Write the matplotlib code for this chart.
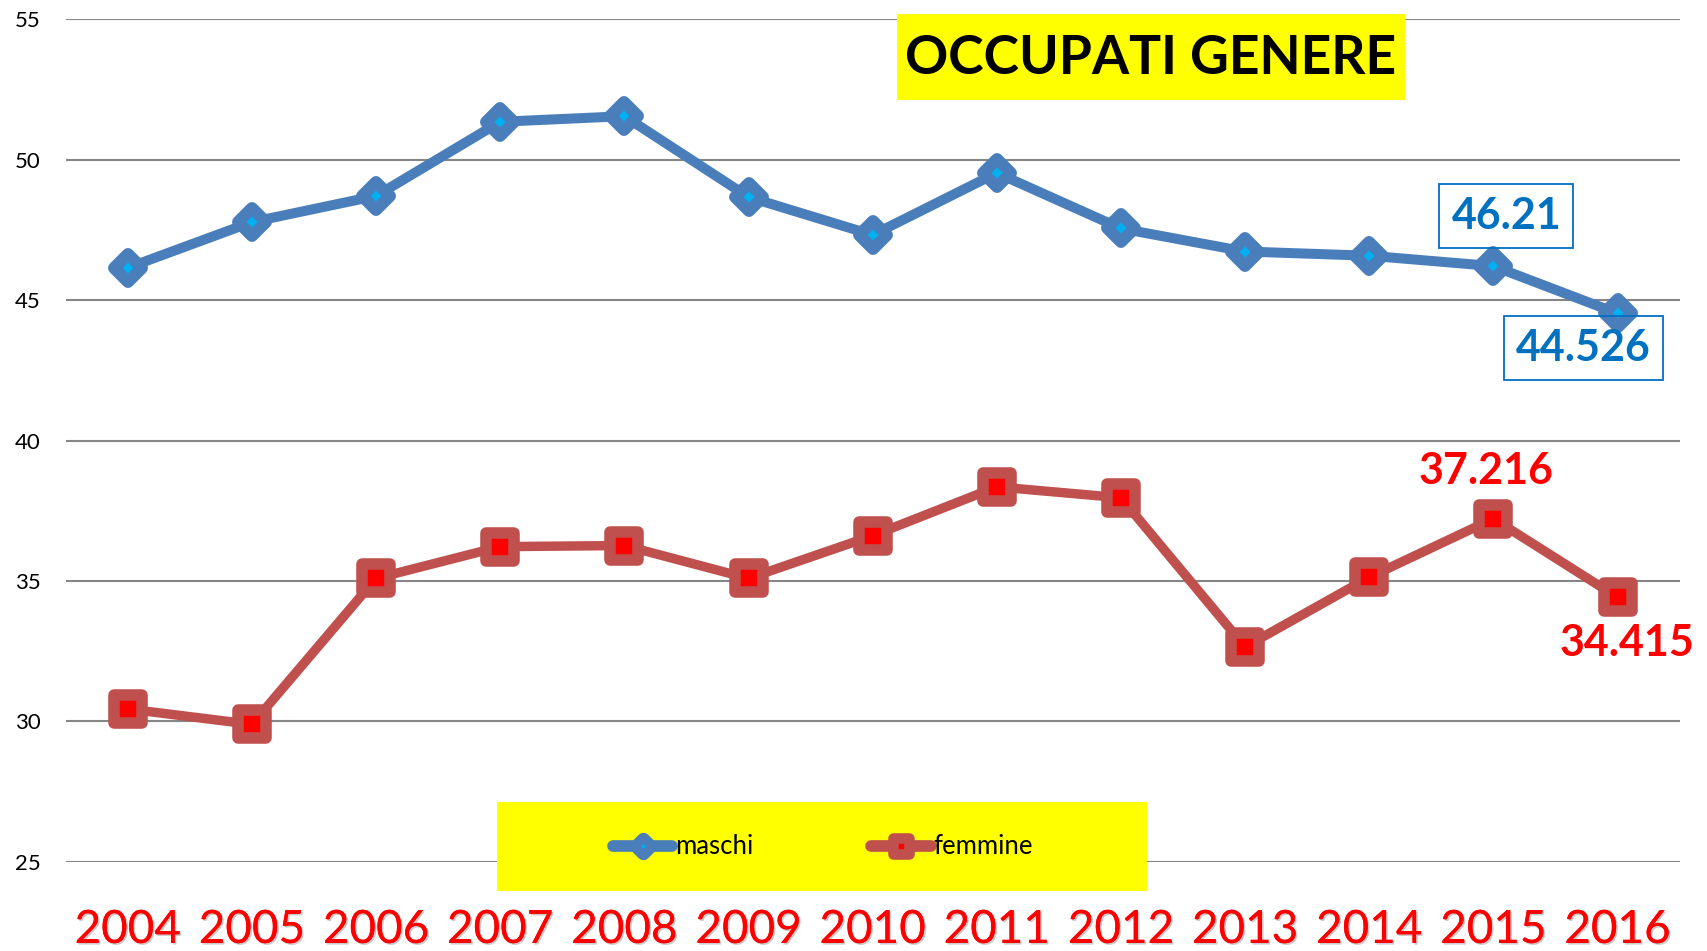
import numpy as np
import matplotlib
matplotlib.use("Agg")
import matplotlib.pyplot as plt
from matplotlib.markers import MarkerStyle
from matplotlib.lines import Line2D
from matplotlib.patches import Rectangle
import matplotlib.patheffects as pe

plt.rcParams['font.family'] = ['Lato', 'DejaVu Sans']

# data
anni = ['2004', '2005', '2006', '2007', '2008', '2009', '2010',
        '2011', '2012', '2013', '2014', '2015', '2016']
maschi = [46.15, 47.78, 48.71, 51.35, 51.55, 48.67, 47.32,
          49.53, 47.55, 46.73, 46.58, 46.21, 44.526]
femmine = [30.44, 29.89, 35.09, 36.22, 36.26, 35.09, 36.61,
           38.35, 37.96, 32.65, 35.13, 37.216, 34.415]
yticks = [25, 30, 35, 40, 45, 50, 55]

W, H = 1708, 951
BLU, BLU_IN, BLU_TXT = '#4A7EBB', '#00B0F0', '#0070C0'
ROSSO, ROSSO_IN = '#C0504D', '#FF0000'

fig = plt.figure(figsize=(W/100, H/100), dpi=100)
ax = fig.add_axes([65.7/W, 1-861.7/H, (1679.6-65.7)/W, (861.7-19.3)/H])

x = np.arange(len(anni))
dia = MarkerStyle('D', joinstyle='round')
sq = MarkerStyle('s', joinstyle='round')

ax.plot(x, maschi, color=BLU, lw=7.2, solid_joinstyle='round',
        marker=dia, ms=14.3, mfc=BLU_IN, mec=BLU, mew=8.6, zorder=3)
ax.plot(x, femmine, color=ROSSO, lw=6.8, solid_joinstyle='round',
        marker=sq, ms=20.5, mfc=ROSSO_IN, mec=ROSSO, mew=8.3, zorder=3)

ax.set_xlim(-0.5, len(anni)-0.5)
ax.set_ylim(25, 55)
ax.set_yticks(yticks)
ax.set_xticks(x)
ax.set_xticklabels(anni, color='#FF0000', fontsize=33)
for t in ax.get_xticklabels():
    t.set_path_effects([pe.withSimplePatchShadow(offset=(1.2, -1.2), shadow_rgbFace='0.5', alpha=0.4),
                        pe.Normal()])
ax.tick_params(axis='x', length=0, pad=34)
ax.tick_params(axis='y', length=0, pad=18, labelsize=16)
ax.grid(axis='y', color='#868686', lw=1.5)
ax.set_axisbelow(True)
for s in ax.spines.values():
    s.set_visible(False)

# etichette dati ultimi due anni
bb = dict(boxstyle='square,pad=0.28', facecolor='none', edgecolor=BLU_TXT, lw=1.3)
ax.annotate('46.21', (11, maschi[11]), xytext=(13, 50), textcoords='offset pixels',
            ha='center', va='center', fontsize=31, fontweight='bold', color=BLU_TXT, bbox=bb, zorder=5)
ax.annotate('44.526', (12, maschi[12]), xytext=(-34, -35), textcoords='offset pixels',
            ha='center', va='center', fontsize=31, fontweight='bold', color=BLU_TXT, bbox=bb, zorder=5)
ax.annotate('37.216', (11, femmine[11]), xytext=(-7, 48), textcoords='offset pixels',
            ha='center', va='center', fontsize=31, fontweight='bold', color=ROSSO_IN, zorder=5)
ax.annotate('34.415', (12, femmine[12]), xytext=(10, -46), textcoords='offset pixels',
            ha='center', va='center', fontsize=31, fontweight='bold', color=ROSSO_IN, zorder=5)

# titolo su fondo giallo
fig.add_artist(Rectangle((897/W, 1-100/H), 508/W, 86/H, transform=fig.transFigure,
                         facecolor='#FFFF00', edgecolor='none', zorder=4))
fig.text(1151/W, 1-58/H, 'OCCUPATI GENERE', ha='center', va='center',
         fontsize=38.5, fontweight='bold', color='black', zorder=5)

# legenda su fondo giallo
fig.add_artist(Rectangle((497/W, 1-891/H), 650/W, 89/H, transform=fig.transFigure,
                         facecolor='#FFFF00', edgecolor='none', zorder=4))
h1 = Line2D([], [], color=BLU, lw=8.4, solid_capstyle='round', marker=dia,
            ms=7.5, mfc=BLU_IN, mec=BLU, mew=9.6)
h2 = Line2D([], [], color=ROSSO, lw=8.4, solid_capstyle='round', marker=sq,
            ms=11.9, mfc=ROSSO_IN, mec=ROSSO, mew=7.6)
leg = fig.legend([h1, h2], ['maschi', 'femmine'], loc='center',
                 bbox_to_anchor=(823/W, 1-847/H), ncol=2, frameon=False,
                 fontsize=18.5, handlelength=2.3, handletextpad=0.1, columnspacing=4.6)
leg.set_zorder(6)

fig.savefig('out.png', dpi=100)
